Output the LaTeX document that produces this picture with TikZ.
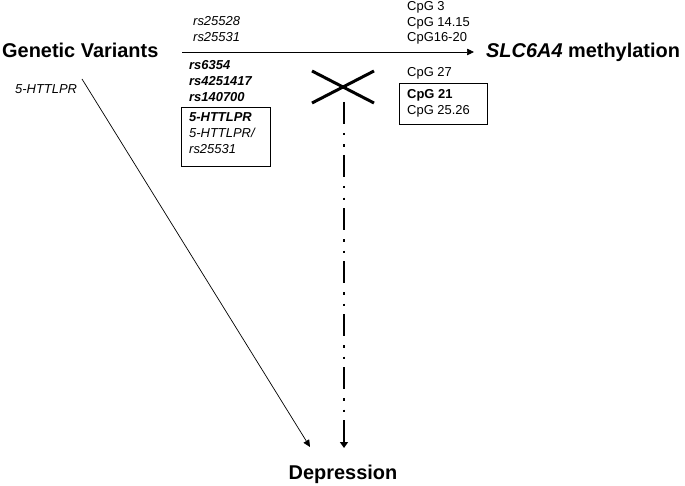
\documentclass[tikz,border=0pt]{standalone}
\usepackage{fontspec}
\setmainfont{Liberation Sans}
\usetikzlibrary{arrows.meta}
\begin{document}
\begin{tikzpicture}[x=1bp,y=-1bp,
  lbl/.style={anchor=base west, inner sep=0pt, font=\fontsize{13}{15}\selectfont},
  lit/.style={lbl, font=\fontsize{13}{15}\selectfont\itshape},
  lbi/.style={lbl, font=\fontsize{13}{15}\selectfont\bfseries\itshape},
  lbb/.style={lbl, font=\fontsize{13}{15}\selectfont\bfseries},
  big/.style={anchor=base west, inner sep=0pt, font=\fontsize{20}{24}\selectfont\bfseries},
  boxed/.style={draw, line width=0.9bp, anchor=north west, inner sep=0pt},
  thinarrow/.style={line width=0.7bp, -{Triangle[length=7bp,width=6.5bp]}},
  crossline/.style={line width=3bp},
  ddline/.style={line width=2.8bp, dash pattern=on 22bp off 9bp on 2.5bp off 9bp on 2.5bp off 8bp, -{Triangle[length=6bp,width=8bp]}}
]
\useasboundingbox (0,0) rectangle (685,486);
% main labels
\node[big] (gv) at (2,58) {Genetic Variants};
\node[big] (slc) at (486,58) {\textit{SLC6A4} methylation};
\node[big, anchor=base] (dep) at (343,479) {Depression};
% left labels
\node[lit] (h) at (15,94) {5-HTTLPR};
\node[lit] (r1) at (193,26) {rs25528};
\node[lit] (r2) at (193,42) {rs25531};
\node[lbi] (r3) at (189,70) {rs6354};
\node[lbi] (r4) at (189,86) {rs4251417};
\node[lbi] (r5) at (189,102) {rs140700};
\node[boxed, minimum width=89bp, minimum height=59bp] (bx1) at (181,107) {};
\node[lbi] (b1) at (189,122) {5-HTTLPR};
\node[lit] (b2) at (189,138) {5-HTTLPR/};
\node[lit] (b3) at (189,154) {rs25531};
% CpG labels
\node[lbl] (c1) at (407,10.5) {CpG 3};
\node[lbl] (c2) at (407,26.5) {CpG 14.15};
\node[lbl] (c3) at (407,42) {CpG16-20};
\node[lbl] (c4) at (407,77) {CpG 27};
\node[boxed, minimum width=88bp, minimum height=41bp] (bx2) at (399,83) {};
\node[lbb] (c5) at (407,98.5) {CpG 21};
\node[lbl] (c6) at (407,115) {CpG 25.26};
% connectors
\coordinate (hs) at (182,52);
\coordinate (he) at (474,52);
\draw[thinarrow] (hs) -- (he);
\coordinate (ds) at (82,79);
\coordinate (de) at (310,447);
\draw[thinarrow] (ds) -- (de);
\coordinate (xa) at (312,71);
\coordinate (xb) at (374,103);
\coordinate (xc) at (312,103);
\coordinate (xd) at (374,71);
\draw[crossline] (xa) -- (xb);
\draw[crossline] (xc) -- (xd);
\coordinate (vs) at (344,102);
\coordinate (ve) at (344,448);
\draw[ddline] (vs) -- (ve);
\end{tikzpicture}
\end{document}
